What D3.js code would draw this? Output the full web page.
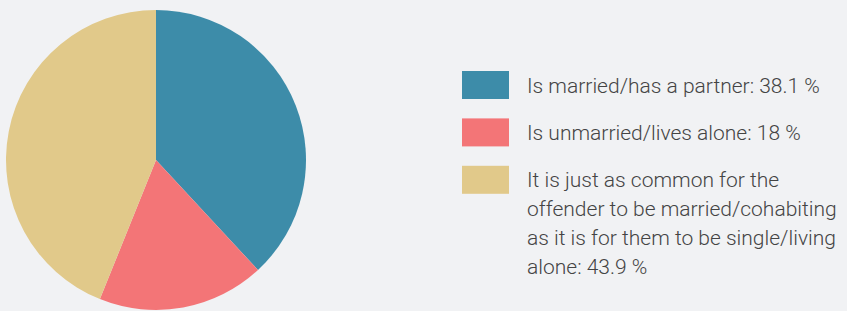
<!DOCTYPE html>
<html>
<head>
<meta charset="utf-8">
<script src="https://cdn.jsdelivr.net/npm/d3@7"></script>
<style>
	html, body { margin: 0; padding: 0; background: #f1f2f4; }
	svg { display: block; }
	.legend-text { font-family: Roboto, "Liberation Sans", sans-serif; font-weight: 300; font-size: 21px; fill: #444; }
</style>
</head>
<body>
<div id="chart"></div>
<script>
//------------------------------------------------------------------------------
// data
var categories = [
	'Is married/has a partner',
	'Is unmarried/lives alone',
	'It is just as common for the offender to be married/cohabiting as it is for them to be single/living alone'
];
var values = [38.1, 18, 43.9];
var colors = ['#3d8ca9', '#f37577', '#e1c98a'];

//------------------------------------------------------------------------------
var w = 847, h = 311;
var cx = 156, cy = 160, radius = 150;

var svg = d3.select('#chart')
	.append('svg')
		.attr('width', w)
		.attr('height', h);

var data = categories.map(function(c, i) {
	return { t: c, v: values[i], c: colors[i] };
});

var pie = d3.pie()
	.sort(null)
	.value(function(d) { return d.v; });

var arcGenerator = d3.arc()
	.innerRadius(0)
	.outerRadius(radius);

var root = svg.append('g')
	.attr('transform', 'translate(' + cx + ',' + cy + ')');

root.selectAll('.slice')
	.data(pie(data))
	.enter()
	.append('path')
		.attr('class', 'slice')
		.attr('d', arcGenerator)
		.attr('fill', function(d) { return d.data.c; });

//------------------------------------------------------------------------------
// legend
var lgX = 462, lgY = 71, itemGap = 47.4, swW = 47, swH = 28;
var textX = 527, lineH = 29, maxW = 320;

var legend = svg.append('g');

var items = legend.selectAll('.lg-item')
	.data(data)
	.enter()
	.append('g')
		.attr('class', 'lg-item')
		.attr('transform', function(d, i) {
			return 'translate(' + lgX + ',' + (lgY + i * itemGap) + ')';
		});

items.append('rect')
	.attr('width', swW)
	.attr('height', swH)
	.attr('fill', function(d) { return d.c; });

items.append('text')
	.attr('class', 'legend-text')
	.attr('x', textX - lgX)
	.attr('y', 21.5)
	.each(function(d) {
		var text = d3.select(this);
		var words = (d.t + ': ' + d.v + '\u00a0%').split(' ');
		var line = [];
		var tspan = text.append('tspan').attr('x', textX - lgX).attr('dy', 0);
		words.forEach(function(word) {
			line.push(word);
			tspan.text(line.join(' '));
			if (tspan.node().getComputedTextLength() > maxW && line.length > 1) {
				line.pop();
				tspan.text(line.join(' '));
				line = [word];
				tspan = text.append('tspan')
					.attr('x', textX - lgX)
					.attr('dy', lineH)
					.text(word);
			}
		});
	});
</script>
</body>
</html>
